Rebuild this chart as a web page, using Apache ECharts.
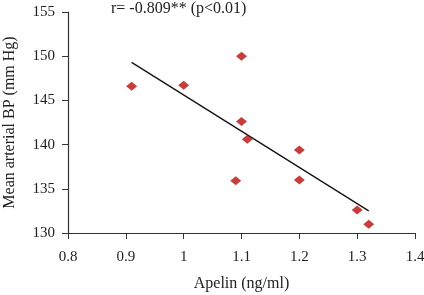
<!DOCTYPE html>
<html>
<head>
<meta charset="utf-8">
<script src="https://cdn.jsdelivr.net/npm/echarts@6/dist/echarts.min.js"></script>
<style>
  html, body { margin: 0; padding: 0; background: #fff; }
  #chart { width: 424px; height: 295px; }
</style>
</head>
<body>
<div id="chart"></div>
<script>
// apelin vs mean arterial BP
const apelin = [0.91, 1.0, 1.1, 1.1, 1.11, 1.2, 1.09, 1.2, 1.3, 1.32];
const meanBP = [146.6, 146.7, 150.0, 142.6, 140.6, 139.4, 135.9, 136.0, 132.6, 131.0];
// regression line end points
const fitX = [0.91, 1.32];
const fitY = [149.3, 132.5];

let chart = echarts.init(document.getElementById("chart"));
const font = "Liberation Serif";

let option = {
    animation: false,
    textStyle: { fontFamily: font },
    title: {
        text: "r= -0.809** (p<0.01)",
        left: 106,
        top: -4,
        textStyle: { fontFamily: font, fontSize: 16, fontWeight: "normal", color: "#222" }
    },
    grid: { left: 68, right: 9, top: 12, bottom: 62, containLabel: false, outerBoundsMode: "none" },
    xAxis: {
        type: "value",
        min: 0.8,
        max: 1.4,
        interval: 0.1,
        name: "Apelin (ng/ml)",
        nameLocation: "middle",
        nameGap: 43,
        nameTextStyle: { fontFamily: font, fontSize: 16, color: "#222" },
        axisLine: { lineStyle: { color: "#333", width: 1.2 } },
        axisTick: { show: true, length: 6, inside: false, lineStyle: { color: "#333" } },
        axisLabel: {
            fontFamily: font, fontSize: 15, color: "#222", margin: 17,
            formatter: v => String(Math.round(v * 10) / 10)
        },
        splitLine: { show: false }
    },
    yAxis: {
        type: "value",
        min: 130,
        max: 155,
        interval: 5,
        name: "Mean arterial BP (mm Hg)",
        nameLocation: "middle",
        nameGap: 50,
        nameTextStyle: { fontFamily: font, fontSize: 16, color: "#222" },
        axisLine: { show: true, lineStyle: { color: "#333", width: 1.2 } },
        axisTick: { show: true, length: 6, lineStyle: { color: "#333" } },
        axisLabel: { fontFamily: font, fontSize: 15, color: "#222", margin: 13 },
        splitLine: { show: false }
    },
    series: [
        {
            type: "line",
            data: fitX.map((x, i) => [x, fitY[i]]),
            symbol: "none",
            lineStyle: { color: "#111", width: 1.3 },
            z: 1
        },
        {
            type: "scatter",
            data: apelin.map((x, i) => [x, meanBP[i]]),
            symbol: "diamond",
            symbolSize: [11, 9],
            itemStyle: { color: "#B80F0B" },
            z: 2
        }
    ]
};
chart.setOption(option);
</script>
</body>
</html>
